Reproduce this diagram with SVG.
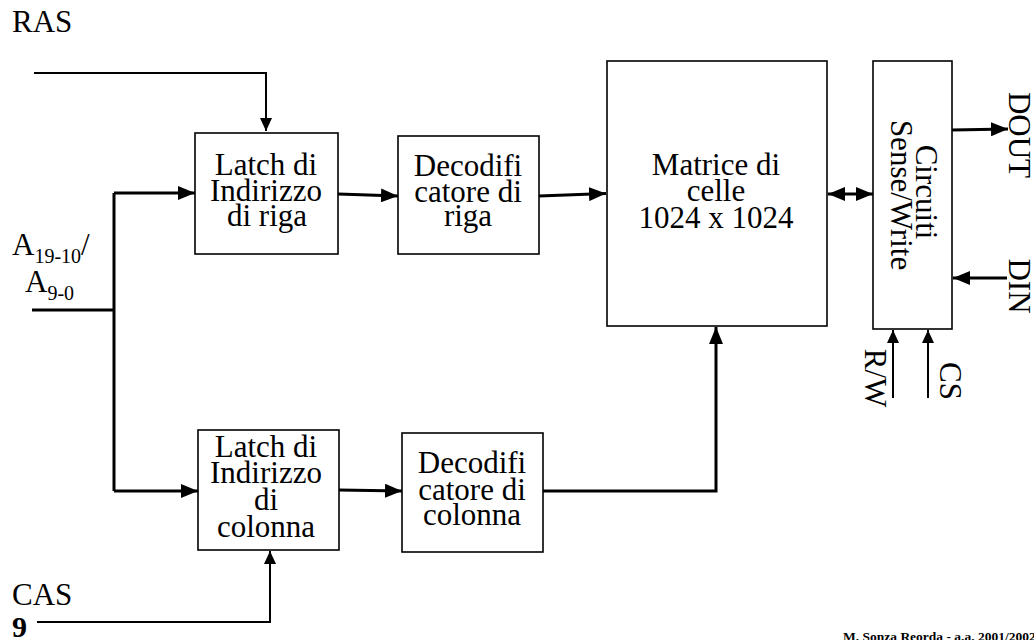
<svg xmlns="http://www.w3.org/2000/svg" width="1034" height="640" viewBox="0 0 1034 640">
  <style>
    .box { fill: #ffffff; stroke: #000000; stroke-width: 1.6; }
    .lbl { font-family: "Liberation Serif", "Times New Roman", serif; font-size: 31px; fill: #000000; }
    .mid { text-anchor: middle; }
    .thick { fill: none; stroke: #000000; stroke-width: 3; }
    .thin { fill: none; stroke: #000000; stroke-width: 2; }
    .bold { font-family: "Liberation Serif", "Times New Roman", serif; font-weight: bold; fill: #000000; }
  </style>
  <defs>
    <marker id="headBig" markerUnits="userSpaceOnUse" markerWidth="18" markerHeight="14" refX="17" refY="7" orient="auto-start-reverse">
      <path d="M0,0 L17,7 L0,14 Z" fill="#000000"/>
    </marker>
    <marker id="headSmall" markerUnits="userSpaceOnUse" markerWidth="14" markerHeight="12" refX="13" refY="6" orient="auto-start-reverse">
      <path d="M0,0 L13,6 L0,12 Z" fill="#000000"/>
    </marker>
  </defs>

  <rect width="1034" height="640" fill="#ffffff"/>

  <!-- signal labels -->
  <text class="lbl" x="12" y="32">RAS</text>
  <text class="lbl" x="12" y="605">CAS</text>
  <text class="lbl" x="12" y="255">A<tspan font-size="20" dy="8">19-10</tspan><tspan dy="-8">/</tspan></text>
  <text class="lbl" x="25" y="292">A<tspan font-size="20" dy="8">9-0</tspan></text>
  <text class="lbl mid" font-size="30" transform="translate(1009,135) rotate(90)">DOUT</text>
  <text class="lbl mid" font-size="30" transform="translate(1009,286) rotate(90)">DIN</text>
  <text class="lbl mid" font-size="29" transform="translate(865,378) rotate(90)">R/W</text>
  <text class="lbl mid" font-size="30" transform="translate(940,381) rotate(90)">CS</text>

  <!-- connectors -->
  <g id="connectors">
    <path class="thin" d="M34,73 L266,73 L266,131" marker-end="url(#headSmall)"/>
    <path class="thin" d="M37,622 L270,622 L270,551" marker-end="url(#headSmall)"/>
    <path class="thick" d="M32,310 L114,310"/>
    <path class="thick" d="M114,193 L114,491"/>
    <path class="thick" d="M114,193 L195,193" marker-end="url(#headBig)"/>
    <path class="thick" d="M114,491 L198,491" marker-end="url(#headBig)"/>
    <path class="thick" d="M338,194 L398,196" marker-end="url(#headBig)"/>
    <path class="thick" d="M539,196 L606,193.5" marker-end="url(#headBig)"/>
    <path class="thick" d="M339,490 L402,491" marker-end="url(#headBig)"/>
    <path class="thick" d="M543,491 L716,491 L716,327" marker-end="url(#headBig)"/>
    <path class="thick" d="M828,194 L873,194" marker-start="url(#headBig)" marker-end="url(#headBig)"/>
    <path class="thick" d="M952,130 L1008,129" marker-end="url(#headBig)"/>
    <path class="thick" d="M1007,278 L953,278" marker-end="url(#headBig)"/>
    <path class="thin" d="M893,398 L893,330" marker-end="url(#headSmall)"/>
    <path class="thin" d="M928,398 L928,330" marker-end="url(#headSmall)"/>
  </g>

  <g id="latch-riga">
    <rect class="box" x="195" y="133" width="143" height="121"/>
    <text class="lbl mid" x="266" y="175">Latch di</text>
    <text class="lbl mid" x="266" y="201">Indirizzo</text>
    <text class="lbl mid" x="267" y="226">di riga</text>
  </g>

  <g id="decoder-riga">
    <rect class="box" x="398" y="136" width="141" height="118"/>
    <text class="lbl mid" x="468" y="175.5">Decodifi</text>
    <text class="lbl mid" x="468" y="202">catore di</text>
    <text class="lbl mid" x="468" y="226">riga</text>
  </g>

  <g id="matrice">
    <rect class="box" x="607" y="61" width="220" height="265"/>
    <text class="lbl mid" x="716" y="175">Matrice di</text>
    <text class="lbl mid" x="716" y="201">celle</text>
    <text class="lbl mid" x="716" y="228">1024 x 1024</text>
  </g>

  <g id="sense-write">
    <rect class="box" x="873" y="61" width="79" height="268"/>
    <text class="lbl mid" font-size="29" transform="translate(916,192) rotate(90)">Circuiti</text>
    <text class="lbl mid" font-size="29" transform="translate(891,195) rotate(90)">Sense/Write</text>
  </g>

  <g id="latch-colonna">
    <rect class="box" x="198" y="430" width="141" height="120"/>
    <text class="lbl mid" x="266" y="457">Latch di</text>
    <text class="lbl mid" x="266" y="483">Indirizzo</text>
    <text class="lbl mid" x="266" y="510">di</text>
    <text class="lbl mid" x="266" y="537">colonna</text>
  </g>

  <g id="decoder-colonna">
    <rect class="box" x="402" y="433" width="141" height="119"/>
    <text class="lbl mid" x="472" y="473">Decodifi</text>
    <text class="lbl mid" x="472" y="500">catore di</text>
    <text class="lbl mid" x="472" y="525">colonna</text>
  </g>

  <!-- page furniture -->
  <text class="bold" x="12" y="637" font-size="30">9</text>
  <text class="bold" x="843" y="641" font-size="13.5">M. Sonza Reorda - a.a. 2001/2002</text>
</svg>
